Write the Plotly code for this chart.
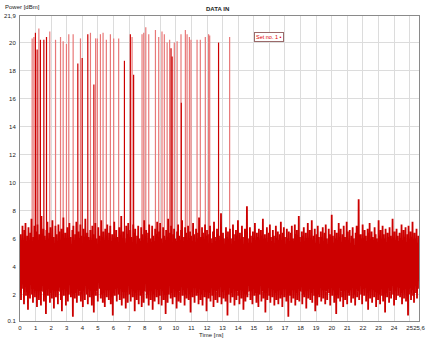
import numpy as np
import plotly.graph_objects as go

sample_step_ns = 0.032

power_seg1 = [
2.1,6.3,1.6,5.8,3.0,6.9,2.4,5.2,1.3,6.6,2.8,7.1,1.9,5.5,2.2,6.2,0.9,6.8,2.6,5.9,
1.7,6.4,3.1,7.4,2.0,5.6,1.4,6.1,2.5,6.9,1.8,5.3,2.9,6.5,1.1,7.0,2.3,5.7,1.6,6.3,
2.7,6.0,1.2,7.6,2.2,5.4,3.2,6.7,1.5,6.2,2.0,5.9,0.6,6.6,2.4,7.2,1.9,5.5,2.8,6.4,
1.4,6.8,2.1,5.8,1.7,7.3,2.6,6.1,1.0,5.6,2.3,6.9,1.8,6.3,3.0,5.4,1.3,7.0,2.2,6.5,
2.5,5.9,1.6,6.7,0.8,6.2,2.9,7.5,1.9,5.7,2.4,6.4,1.2,6.0,2.7,6.8,1.5,5.5,2.0,7.1,
3.1,6.1,1.8,5.6,2.3,6.6,0.4,6.9,2.6,5.3,1.7,6.3,2.1,7.2,1.4,5.8,2.9,6.5,1.9,6.0,
2.2,7.0,1.5,6.2,2.8,5.5,1.1,6.7,2.4,6.0,1.6,7.4,3.0,5.7,2.0,6.4,1.3,6.1,2.5,5.9,
1.8,6.6,2.7,5.4,1.2,6.9,2.3,6.3,0.7,5.8,2.6,7.1,1.9,6.0,2.2,5.6,1.5,6.8,3.1,6.2,
2.4,5.7,1.7,7.3,2.0,6.1,1.4,6.5,2.9,5.9,1.1,6.7,2.5,6.2,1.8,7.0,2.3,5.5,1.6,6.4,
2.8,6.9,1.3,5.8,2.1,6.3,0.5,6.0,2.6,7.2,1.9,5.6,2.4,6.6,1.5,6.1,3.0,5.4,2.0,6.8,
]
power_seg2 = [
1.6,6.2,2.5,7.6,1.2,5.9,2.2,6.5,1.7,6.0,2.8,5.7,1.0,6.9,2.3,6.3,1.4,7.1,2.6,5.8,
2.0,6.6,1.5,6.1,2.9,5.5,1.8,7.0,2.4,6.4,0.8,6.7,2.1,5.6,1.6,6.2,2.7,6.9,1.3,6.0,
2.3,5.8,1.9,6.8,1.1,6.3,2.6,5.9,1.4,7.3,2.2,6.1,3.0,6.6,1.7,5.4,2.0,6.4,1.2,7.0,
2.5,6.0,1.6,5.7,2.8,6.9,0.9,6.2,2.1,5.8,1.5,6.7,2.4,6.3,1.8,7.2,2.9,5.5,1.3,6.5,
1.9,7.1,2.4,6.0,1.2,5.6,2.7,6.8,1.6,6.2,2.2,5.9,0.6,6.6,2.5,6.1,1.4,7.4,2.0,5.7,
2.6,6.4,1.7,6.9,2.1,5.5,1.3,6.3,2.9,6.7,1.8,6.0,2.3,5.8,1.0,6.5,2.6,7.0,1.5,6.2,
2.2,5.9,1.4,6.6,2.7,7.3,1.9,5.6,2.4,6.1,1.2,6.8,2.0,6.4,1.7,5.7,3.1,6.9,1.6,6.0,
2.4,6.5,0.7,6.2,2.2,5.8,1.8,7.1,2.5,6.3,1.4,5.6,2.8,6.7,1.9,6.0,2.1,6.4,1.3,7.5,
2.7,5.7,1.6,6.1,2.0,6.8,1.2,6.4,2.6,5.9,1.8,7.0,2.3,6.2,0.8,6.6,2.5,5.5,1.7,6.3,
2.1,6.9,1.5,6.0,2.9,5.6,1.9,6.5,1.1,7.2,2.4,6.1,1.6,5.8,2.2,6.7,1.4,6.3,2.8,5.9,
]
power_seg3 = [
1.8,6.2,2.6,7.8,1.3,5.7,2.2,6.4,1.7,6.0,2.9,5.5,1.5,6.8,2.3,6.1,0.5,6.5,2.0,5.9,
2.5,6.7,1.4,6.0,2.1,5.6,1.8,7.0,2.7,6.3,1.2,5.8,2.4,6.6,1.6,6.2,2.2,7.3,1.9,5.7,
1.3,6.4,2.8,5.9,1.7,6.9,2.3,6.1,0.9,5.6,2.5,6.7,1.5,6.3,2.0,8.3,1.8,6.0,2.6,5.5,
2.2,6.8,1.6,6.2,2.9,5.7,1.3,6.5,2.4,6.0,1.9,7.1,2.1,5.8,1.4,6.4,2.7,6.1,1.1,6.7,
2.0,5.9,2.6,6.6,1.5,6.2,2.2,7.4,1.7,5.6,2.8,6.3,0.7,6.0,2.3,6.8,1.6,5.7,2.5,6.4,
1.9,7.0,1.4,6.1,2.4,5.8,1.8,6.6,2.9,6.2,1.2,5.5,2.1,6.9,1.6,6.0,2.6,6.5,1.3,5.9,
2.3,6.3,1.7,7.2,2.0,5.7,1.1,6.4,2.5,6.8,1.8,6.1,2.7,5.6,1.5,6.7,2.2,6.0,0.4,6.5,
2.6,5.8,1.9,6.4,1.4,6.9,2.3,6.0,1.7,5.5,2.8,7.0,1.2,6.3,2.1,6.6,1.6,5.9,2.4,7.6,
1.5,6.1,2.2,5.7,2.9,6.5,1.3,6.2,2.0,6.8,1.8,5.6,2.6,6.4,1.0,6.0,2.3,7.1,1.7,5.8,
2.4,6.6,1.6,6.0,2.1,7.3,1.4,5.9,2.7,6.2,1.9,6.7,0.8,5.7,2.5,6.3,1.2,6.9,2.0,6.1,
]
power_seg4 = [
1.8,5.6,2.6,6.5,1.5,6.1,2.3,6.8,1.7,5.8,2.9,6.4,1.3,7.0,2.2,6.0,1.6,5.5,2.4,6.7,
2.1,6.3,1.2,5.9,2.5,7.7,1.9,6.2,2.3,5.7,1.4,6.6,2.8,6.0,0.6,6.4,2.0,5.8,1.7,7.1,
2.7,6.0,1.5,6.7,2.2,5.6,1.8,6.3,1.1,6.9,2.4,6.1,1.6,5.8,2.6,7.2,1.3,6.5,2.1,5.9,
1.9,6.6,2.3,5.7,1.4,6.2,2.8,6.8,1.7,6.0,2.0,5.5,1.2,6.4,2.5,6.9,1.8,6.1,2.2,8.8,
1.6,5.9,2.7,6.3,2.0,6.0,1.3,7.0,2.4,5.6,1.9,6.6,2.6,6.2,1.5,5.8,2.1,6.7,0.9,6.4,
2.3,7.1,1.7,5.7,2.5,6.5,1.4,6.1,2.9,5.9,1.8,6.8,2.2,6.3,1.1,6.0,2.6,5.5,1.6,7.3,
2.0,6.2,1.3,6.6,2.4,5.8,1.9,6.9,1.5,6.3,2.7,6.0,0.7,6.7,2.1,5.6,1.8,6.4,2.5,6.1,
1.4,6.8,2.2,6.2,1.7,5.7,2.6,7.4,2.0,6.0,1.2,6.5,2.3,5.9,1.6,6.7,2.8,6.2,1.9,5.8,
2.5,6.4,1.8,6.0,2.1,7.0,1.3,5.6,2.4,6.6,1.7,6.1,2.9,6.8,1.5,5.7,2.2,6.3,0.5,6.9,
2.0,5.8,2.6,6.5,1.6,6.1,2.3,7.2,1.9,5.9,1.4,6.4,2.7,6.0,2.1,6.7,1.7,5.6,2.4,6.2,
]

# spikes that render solid (time ns, peak dBm)
spike_solid_times = [0.99, 1.10, 1.31, 1.53, 1.70, 3.71, 3.99, 4.35, 4.74, 6.70,
                     7.08, 7.29, 9.69, 9.76, 10.35, 12.74]
spike_solid_peaks = [20.7, 19.5, 20.2, 20.2, 20.4, 18.5, 18.9, 20.6, 17.0, 18.7,
                     20.6, 17.7, 19.6, 19.0, 15.7, 20.0]
# spikes that render faint (time ns, peak dBm)
spike_faint_times = [0.78, 0.89, 1.21, 1.91, 2.28, 2.60, 2.77, 2.98, 3.13, 3.41,
                     3.88, 4.52, 4.85, 4.96, 5.16, 5.33, 5.54, 5.80, 6.01, 6.33,
                     7.19, 7.83, 7.94, 8.07, 8.26, 8.69, 8.90, 9.11, 9.26, 9.44,
                     9.60, 9.90, 10.08, 10.33, 10.61, 10.72, 10.87, 10.97, 11.36, 11.57,
                     11.89, 12.10, 12.17, 13.45]
spike_faint_peaks = [20.3, 20.4, 21.0, 20.8, 20.2, 20.4, 20.1, 19.9, 20.6, 20.6,
                     20.3, 20.7, 20.3, 20.3, 20.6, 20.7, 20.2, 20.6, 20.3, 20.3,
                     20.4, 20.6, 20.7, 21.1, 20.6, 20.9, 20.4, 20.8, 20.6, 20.0,
                     20.2, 20.0, 20.1, 20.6, 20.9, 20.6, 20.4, 20.2, 20.2, 20.2,
                     20.4, 20.6, 20.5, 20.4]
spike_base = 4.0

x_tick_vals = list(range(0, 26)) + [25.6]
x_tick_text = [str(v) for v in range(0, 26)] + ["25,6"]
y_tick_vals = [0.1, 2, 4, 6, 8, 10, 12, 14, 16, 18, 20, 21.9]
y_tick_text = ["0.1", "2", "4", "6", "8", "10", "12", "14", "16", "18", "20", "21,9"]

# ---- build series ----
noise = np.array(power_seg1 + power_seg2 + power_seg3 + power_seg4)
t_noise = np.arange(len(noise)) * sample_step_ns


def spike_xy(times, peaks):
    xs, ys = [], []
    for t, p in zip(times, peaks):
        xs += [t, t, None]
        ys += [spike_base, p, None]
    return xs, ys


FONT = "Liberation Sans, Arial, sans-serif"
RED = "#cc0000"

fig = go.Figure()
sx, sy = spike_xy(spike_faint_times, spike_faint_peaks)
fig.add_trace(go.Scatter(x=sx, y=sy, mode="lines", line=dict(color="#e87878", width=1.2),
                         showlegend=False, hoverinfo="skip"))
sx, sy = spike_xy(spike_solid_times, spike_solid_peaks)
fig.add_trace(go.Scatter(x=sx, y=sy, mode="lines", line=dict(color=RED, width=1.2),
                         showlegend=False, hoverinfo="skip"))
fig.add_trace(go.Scatter(x=t_noise, y=noise, mode="lines", name="Set no. 1",
                         line=dict(color=RED, width=1.8), showlegend=False,
                         hoverinfo="skip"))

axis_common = dict(showgrid=True, gridcolor="#dcdcdc", gridwidth=1,
                   showline=True, linecolor="#8a8a8a", linewidth=1, mirror=True,
                   zeroline=False, ticks="", tickfont=dict(size=6, family=FONT, color="#222222"),
                   automargin=False, tickangle=0)

fig.update_layout(
    width=432, height=341,
    margin=dict(l=20, r=13, t=16, b=20),
    paper_bgcolor="white", plot_bgcolor="white",
    font=dict(family=FONT, size=6, color="#222222"),
    xaxis=dict(range=[0, 25.6], tickvals=x_tick_vals, ticktext=x_tick_text,
               ticklabelstandoff=1, **axis_common),
    yaxis=dict(range=[0.1, 21.9], tickvals=y_tick_vals, ticktext=y_tick_text,
               ticklabelstandoff=2, **axis_common),
)

fig.add_annotation(text="<b>DATA IN</b>", xref="paper", yref="paper",
                   x=0.494, y=1.023, xanchor="center", yanchor="middle",
                   showarrow=False, font=dict(size=6, family=FONT, color="#222222"))
fig.add_annotation(text="Power [dBm]", xref="paper", yref="paper",
                   x=-0.043, y=1.03, xanchor="left", yanchor="middle",
                   showarrow=False, font=dict(size=6, family=FONT, color="#222222"))
fig.add_annotation(text="Time [ns]", xref="paper", yref="paper",
                   x=0.479, y=-0.046, xanchor="center", yanchor="middle",
                   showarrow=False, font=dict(size=6, family=FONT, color="#222222"))
fig.add_annotation(text="Set no. 1 \u2022", xref="paper", yref="paper",
                   x=0.6245, y=0.931, xanchor="center", yanchor="middle",
                   showarrow=False, font=dict(size=5.5, family=FONT, color="#e00000"),
                   bordercolor="#9a6a6a", borderwidth=1, borderpad=1, bgcolor="white")

fig.write_html("out.html")
